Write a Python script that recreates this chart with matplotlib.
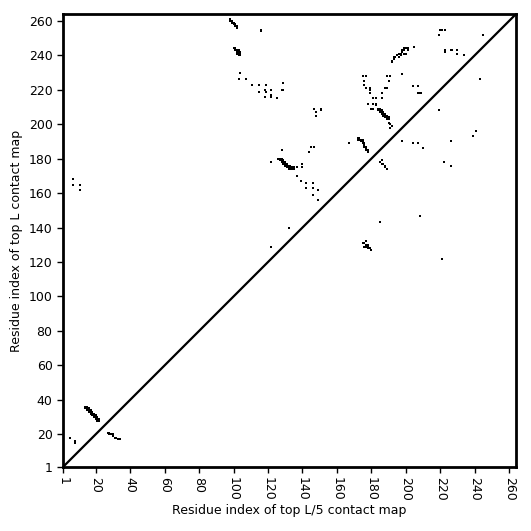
import numpy as np
import matplotlib
matplotlib.use("Agg")
import matplotlib.pyplot as plt

# sequence length and ticks
L = 264
tick_values = [1, 20, 40, 60, 80, 100, 120, 140, 160, 180, 200, 220, 240, 260]

# contacts above the diagonal (x, y)
upper_contacts = [
    (7, 168), (7, 165), (11, 165), (11, 162),
    (14, 36), (15, 36), (15, 35), (16, 35), (16, 34), (17, 34), (17, 33), (18, 33),
    (18, 32), (19, 32), (19, 31), (20, 31), (20, 30), (21, 30), (21, 29), (22, 29), (22, 28),
    (14, 35), (15, 34), (16, 33), (17, 32), (18, 31), (19, 30), (20, 29), (21, 28),
    (5, 18), (8, 16), (8, 15),
    (98, 261), (98, 260), (99, 260), (100, 259), (101, 258), (102, 257), (102, 256),
    (99, 259), (100, 258), (101, 257),
    (116, 255), (116, 254),
    (100, 244), (101, 244), (101, 243), (102, 243), (102, 242), (103, 242), (103, 241),
    (104, 241), (104, 242), (102, 241), (103, 240), (104, 240), (103, 243),
    (104, 230), (103, 226), (107, 226),
    (111, 223), (115, 223), (119, 223), (129, 224),
    (115, 219), (118, 220), (119, 219), (122, 220), (128, 220), (129, 220),
    (118, 216), (122, 217), (122, 216), (125, 215),
    (147, 209), (151, 209), (151, 208), (148, 207), (148, 205),
    (128, 185), (145, 187), (147, 187), (144, 184),
    (126, 180), (127, 180), (127, 179), (128, 179), (128, 178), (129, 178), (129, 177),
    (130, 177), (130, 176), (131, 176), (131, 175), (132, 175), (133, 175), (134, 175),
    (135, 175), (128, 180), (129, 179), (130, 178), (131, 177), (132, 176), (133, 176),
    (132, 174), (133, 174), (134, 174), (135, 174),
    (122, 178), (137, 175), (140, 177), (140, 175),
    (137, 170), (139, 167), (142, 166), (142, 163), (146, 166), (146, 163), (146, 159),
    (149, 162), (149, 156),
    (132, 140), (122, 129),
    (192, 236), (193, 238), (194, 239), (195, 240), (196, 241), (196, 239), (197, 240),
    (198, 242), (199, 243), (200, 244), (201, 243), (200, 241), (205, 245),
    (192, 237), (193, 239), (197, 241), (198, 243), (199, 244), (201, 244), (199, 241),
    (175, 228), (177, 228), (176, 225), (176, 223), (179, 221), (179, 220),
    (189, 228), (191, 228), (198, 229), (190, 225), (188, 221), (189, 221), (177, 221),
    (179, 218), (186, 218), (186, 215), (181, 215), (183, 215),
    (178, 212), (181, 212), (183, 212), (180, 209), (181, 209), (183, 211),
    (184, 209), (185, 209), (185, 208), (186, 208), (186, 207), (187, 207), (187, 206),
    (188, 206), (188, 205), (189, 205), (189, 204), (190, 204), (190, 203),
    (184, 208), (185, 207), (186, 206), (187, 205), (188, 204), (189, 203),
    (190, 201), (191, 200), (191, 198), (192, 199),
    (204, 222), (207, 222), (207, 218), (209, 218), (208, 218),
    (167, 189), (172, 192), (173, 192), (174, 191), (175, 191), (175, 190), (176, 189),
    (176, 188), (177, 187), (177, 186), (178, 185), (178, 184),
    (172, 191), (173, 191), (174, 190), (175, 189), (176, 187), (177, 185),
    (220, 255), (221, 255), (223, 255), (219, 252), (245, 252),
    (223, 243), (223, 242), (226, 243), (227, 243), (230, 243), (230, 241), (234, 240),
]

# contacts below the diagonal (x, y)
lower_contacts = [
    (27, 21), (28, 21), (28, 20), (29, 20), (30, 20), (30, 19), (31, 18), (32, 18),
    (33, 17), (34, 17),
    (185, 178), (186, 179), (186, 177), (187, 177), (188, 176), (188, 175), (189, 174),
    (198, 190), (204, 189), (207, 189), (210, 186),
    (219, 208), (226, 190), (222, 178), (226, 176),
    (239, 193), (241, 196), (243, 226),
    (208, 147), (185, 143), (221, 122),
    (175, 131), (176, 131), (177, 132), (177, 130), (178, 130), (176, 129), (177, 129),
    (178, 129), (179, 128), (180, 127), (178, 128),
]

ux, uy = zip(*upper_contacts)
lx, ly = zip(*lower_contacts)

fig = plt.figure(figsize=(5.31, 5.31), dpi=100)
ax = fig.add_axes([0.1186, 0.1205, 0.8532, 0.8531])

ax.scatter(ux, uy, s=4.2, marker='s', color='black', linewidths=0)
ax.scatter(lx, ly, s=4.2, marker='s', color='black', linewidths=0)
ax.plot([1, L], [1, L], color='black', linewidth=1.6)

ax.set_xlim(1, L)
ax.set_ylim(1, L)
ax.set_xticks(tick_values)
ax.set_yticks(tick_values)
ax.set_xticklabels([str(t) for t in tick_values], rotation=270, fontsize=9)
ax.set_yticklabels([str(t) for t in tick_values], fontsize=9)
ax.tick_params(direction='out', length=4, width=1)
for s in ax.spines.values():
    s.set_linewidth(2)

ax.set_xlabel("Residue index of top L/5 contact map", fontsize=9, labelpad=2)
ax.set_ylabel("Residue index of top L contact map", fontsize=9, labelpad=4)

fig.savefig("out.png", dpi=100)
